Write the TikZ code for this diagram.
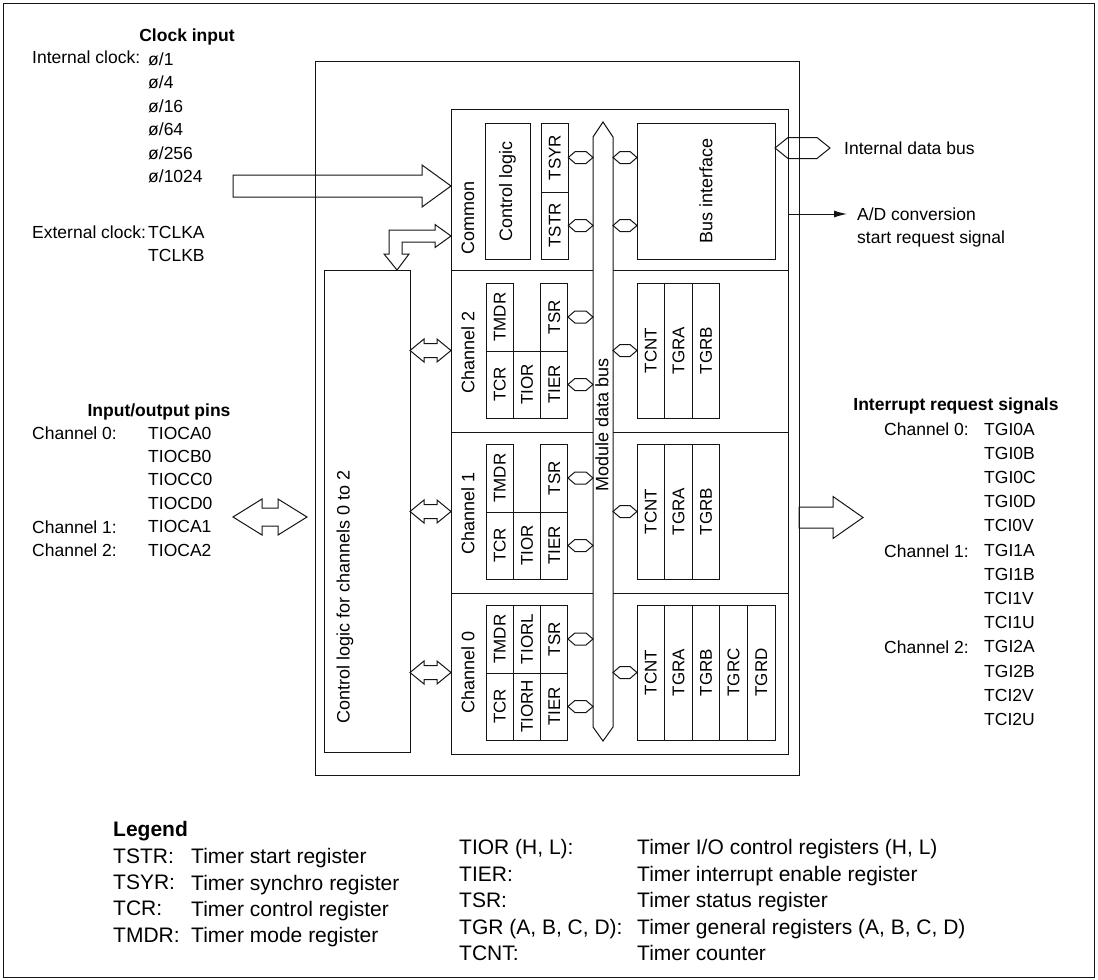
\documentclass[tikz,border=0pt]{standalone}
\usepackage{fontspec}
\setmainfont{Liberation Sans}
\usepackage{graphicx}
\usetikzlibrary{arrows.meta,positioning,calc}
\definecolor{ink}{RGB}{20,20,20}
\tikzset{
  box/.style={draw=ink,line width=1pt,inner sep=0pt,outer sep=0pt,anchor=north west},
  reg/.style={box,minimum width=27.3pt,minimum height=68pt,font=\fontsize{17}{20}\selectfont},
  cnt/.style={box,minimum width=27.6pt,minimum height=135pt,font=\fontsize{17}{20}\selectfont},
  vlabel/.style={rotate=90,font=\fontsize{18}{21}\selectfont},
  fat/.style={draw=ink,line width=1pt,line join=miter},
  sig/.style={-{Latex[length=13pt,width=7pt]},draw=ink,line width=1pt},
  txt/.style={inner sep=0pt,anchor=west,text depth=0pt},
  head/.style={inner sep=0pt,text depth=0pt,font=\fontsize{17.5}{21}\selectfont\bfseries},
  col/.style={inner sep=0pt,align=left,anchor=north west},
}
\newcommand{\vtext}[1]{\rotatebox{90}{#1}}
% hollow arrow: start, tip, half shaft, half head, head length
\newcommand{\fatarrow}[5]{%
  \draw[fat] ($#1+(0,-#3)$) -- ($#2+(-#5,-#3)$) -- ($#2+(-#5,-#4)$) -- #2
    -- ($#2+(-#5,#4)$) -- ($#2+(-#5,#3)$) -- ($#1+(0,#3)$) -- cycle;}
% hollow double arrow (hexagon when shaft = head)
\newcommand{\fatdouble}[5]{%
  \draw[fat] #1 -- ($#1+(#5,-#4)$) -- ($#1+(#5,-#3)$) -- ($#2+(-#5,-#3)$) -- ($#2+(-#5,-#4)$) -- #2
    -- ($#2+(-#5,#4)$) -- ($#2+(-#5,#3)$) -- ($#1+(#5,#3)$) -- ($#1+(#5,#4)$) -- cycle;}

\begin{document}
\begin{tikzpicture}[x=1pt,y=-1pt,font=\fontsize{17.5}{21}\selectfont]
\useasboundingbox (0,0) rectangle (1098,980);
\node[box,minimum width=1091pt,minimum height=974pt] (frame) at (3,3) {};

% chip and module frame
\node[box,minimum width=484pt,minimum height=714pt] (chip) at (315,61) {};
\node[box,minimum width=337pt,minimum height=645pt] (module) at (451,109) {};
\node[box,minimum width=86pt,minimum height=482pt] (cl) at (324,270) {};
\node[vlabel] (cltxt) at (345,597) {Control logic for channels 0 to 2};
\coordinate (sep1) at (0,432);
\coordinate (sep0) at (0,593);
\draw[fat] (module.west |- cl.north) -- (module.east |- cl.north);
\draw[fat] (module.west |- sep1) -- (module.east |- sep1);
\draw[fat] (module.west |- sep0) -- (module.east |- sep0);

% module data bus
\node[box,draw=none,minimum width=20pt,minimum height=590pt] (bus) at (593,137) {};
\draw[fat,fill=white] (bus.north west) -- ($(bus.north)+(0,-15)$) -- (bus.north east)
  -- (bus.south east) -- ($(bus.south)+(0,14)$) -- (bus.south west) -- cycle;
\node[vlabel] (busl) at (602,425) {Module data bus};

% common
\node[vlabel] (coml) at (468,218) {Common};
\node[box,minimum width=45pt,minimum height=136pt,font=\fontsize{18}{21}\selectfont] (ctl) at (485,123) {\vtext{Control logic}};
\node[reg,minimum height=69pt] (tsyr) at (541,123) {\vtext{TSYR}};
\node[reg,minimum height=67pt,below=0pt of tsyr] (tstr) {\vtext{TSTR}};
\node[box,minimum width=138pt,minimum height=136pt,font=\fontsize{18}{21}\selectfont] (busif) at (637,123) {\vtext{Bus interface}};

% channel 2
\node[vlabel] (ch2l) at (468,352) {Channel 2};
\node[reg,minimum height=67pt] (tcr2) at (486,351) {\vtext{TCR}};
\node[reg,minimum height=67pt,right=0pt of tcr2] (tior2) {\vtext{TIOR}};
\node[reg,minimum height=67pt,right=0pt of tior2] (tier2) {\vtext{TIER}};
\node[reg,above=0pt of tcr2] (tmdr2) {\vtext{TMDR}};
\node[reg,above=0pt of tier2] (tsr2) {\vtext{TSR}};
\node[cnt] (tcnt2) at (637,283) {\vtext{TCNT}};
\node[cnt,right=0pt of tcnt2] (tgra2) {\vtext{TGRA}};
\node[cnt,right=0pt of tgra2] (tgrb2) {\vtext{TGRB}};

% channel 1
\node[vlabel] (ch1l) at (468,513) {Channel 1};
\node[reg,minimum height=67pt] (tcr1) at (486,512) {\vtext{TCR}};
\node[reg,minimum height=67pt,right=0pt of tcr1] (tior1) {\vtext{TIOR}};
\node[reg,minimum height=67pt,right=0pt of tior1] (tier1) {\vtext{TIER}};
\node[reg,above=0pt of tcr1] (tmdr1) {\vtext{TMDR}};
\node[reg,above=0pt of tier1] (tsr1) {\vtext{TSR}};
\node[cnt] (tcnt1) at (637,444) {\vtext{TCNT}};
\node[cnt,right=0pt of tcnt1] (tgra1) {\vtext{TGRA}};
\node[cnt,right=0pt of tgra1] (tgrb1) {\vtext{TGRB}};

% channel 0
\node[vlabel] (ch0l) at (468,672) {Channel 0};
\node[reg,minimum height=67pt] (tcr0) at (486,673) {\vtext{TCR}};
\node[reg,minimum height=67pt,right=0pt of tcr0] (tior0) {\vtext{TIORH}};
\node[reg,minimum height=67pt,right=0pt of tior0] (tier0) {\vtext{TIER}};
\node[reg,above=0pt of tcr0] (tmdr0) {\vtext{TMDR}};
\node[reg,above=0pt of tior0] (tiorl0) {\vtext{TIORL}};
\node[reg,above=0pt of tier0] (tsr0) {\vtext{TSR}};
\node[cnt] (tcnt0) at (637,605) {\vtext{TCNT}};
\node[cnt,right=0pt of tcnt0] (tgra0) {\vtext{TGRA}};
\node[cnt,right=0pt of tgra0] (tgrb0) {\vtext{TGRB}};
\node[cnt,right=0pt of tgrb0] (tgrc0) {\vtext{TGRC}};
\node[cnt,right=0pt of tgrc0] (tgrd0) {\vtext{TGRD}};

% bus connectors
\fatdouble{(tsyr.east)}{(bus.west |- tsyr.east)}{6}{6}{7}
\fatdouble{(tstr.east)}{(bus.west |- tstr.east)}{6}{6}{7}
\fatdouble{(bus.east |- tsyr.east)}{(busif.west |- tsyr.east)}{6}{6}{7}
\fatdouble{(bus.east |- tstr.east)}{(busif.west |- tstr.east)}{6}{6}{7}
\fatdouble{(tsr2.east)}{(bus.west |- tsr2.east)}{6}{6}{7}
\fatdouble{(tier2.east)}{(bus.west |- tier2.east)}{6}{6}{7}
\fatdouble{(bus.east |- tcnt2.west)}{(tcnt2.west)}{6}{6}{7}
\fatdouble{(tsr1.east)}{(bus.west |- tsr1.east)}{6}{6}{7}
\fatdouble{(tier1.east)}{(bus.west |- tier1.east)}{6}{6}{7}
\fatdouble{(bus.east |- tcnt1.west)}{(tcnt1.west)}{6}{6}{7}
\fatdouble{(tsr0.east)}{(bus.west |- tsr0.east)}{6}{6}{7}
\fatdouble{(tier0.east)}{(bus.west |- tier0.east)}{6}{6}{7}
\fatdouble{(bus.east |- tcnt0.west)}{(tcnt0.west)}{6}{6}{7}

% control logic <-> channels
\fatdouble{(cl.east |- tcnt2.west)}{(module.west |- tcnt2.west)}{7}{11.5}{14}
\fatdouble{(cl.east |- tcnt1.west)}{(module.west |- tcnt1.west)}{7}{11.5}{14}
\fatdouble{(cl.east |- tcnt0.west)}{(module.west |- tcnt0.west)}{7}{11.5}{14}
\coordinate (cm) at (0,236);
\coordinate (cmR) at (module.west |- cm);
\coordinate (cmD) at ($(cl.north west)+(73,0)$);
\draw[fat] (cmR) -- ++(-16,-11.5) -- ++(0,5.5) -- ++(-46,0) -- ++(0,24) -- ++(-5,0) -- (cmD)
  -- ++(12,-16) -- ++(-7,0) -- ++(0,-12) -- ++(33,0) -- ++(0,5.5) -- cycle;

% outside signals
\coordinate (clk) at (233,186);
\fatarrow{(clk)}{(module.west |- clk)}{11}{21}{29}
\coordinate (ioL) at (233,517);
\coordinate (ioR) at (307,517);
\fatdouble{(ioL)}{(ioR)}{9}{18}{29}
\coordinate (irq) at (863,517.5);
\fatarrow{(chip.east |- irq)}{(irq)}{10.5}{21}{30}
\coordinate (idb) at (830,148);
\fatdouble{(busif.east |- idb)}{(idb)}{10.5}{10.5}{13}
\node[txt] (idbl) at (844,148) {Internal data bus};
\coordinate (adend) at (847,214);
\draw[sig] (module.east |- adend) -- (adend);
\node[col,font=\fontsize{17.5}{23}\selectfont] (adtxt) at (857,207.7) {A/D conversion\\start request signal};

% clock input
\node[head] (clkh) at (187,35) {Clock input};
\node[txt] (intl) at (32,57) {Internal clock:};
\node[col,font=\fontsize{17.5}{23.5}\selectfont] (divs) at (148,52.5) {ø/1\\ø/4\\ø/16\\ø/64\\ø/256\\ø/1024};
\node[txt] (extl) at (32,232) {External clock:};
\node[col,font=\fontsize{17.5}{23.2}\selectfont] (tclk) at (148,225.7) {TCLKA\\TCLKB};

% input/output pins
\node[head] (ioh) at (159,410) {Input/output pins};
\node[txt] (io0) at (32,433) {Channel 0:};
\node[txt] (io1) at (32,527) {Channel 1:};
\node[txt] (io2) at (32,550) {Channel 2:};
\node[col,font=\fontsize{17.5}{23.4}\selectfont] (pins) at (148,426.7)
  {TIOCA0\\TIOCB0\\TIOCC0\\TIOCD0\\TIOCA1\\TIOCA2};

% interrupt request signals
\node[head] (irqh) at (956,404) {Interrupt request signals};
\node[txt] (irq0) at (884,429) {Channel 0:};
\node[txt] (irq1) at (884,551) {Channel 1:};
\node[txt] (irq2) at (884,647) {Channel 2:};
\node[col,font=\fontsize{17.5}{24.2}\selectfont] (tgi) at (984,422.7)
  {TGI0A\\TGI0B\\TGI0C\\TGI0D\\TCI0V\\TGI1A\\TGI1B\\TCI1V\\TCI1U\\TGI2A\\TGI2B\\TCI2V\\TCI2U};

% legend
\node[txt,font=\fontsize{21}{26}\selectfont\bfseries] (legh) at (113,829) {Legend};
\node[col,font=\fontsize{21}{26.3}\selectfont] (legA) at (113,848.5) {TSTR:\\TSYR:\\TCR:\\TMDR:};
\node[col,font=\fontsize{21}{26.3}\selectfont] (legAd) at (191,848.5)
  {Timer start register\\Timer synchro register\\Timer control register\\Timer mode register};
\node[col,font=\fontsize{21}{26.5}\selectfont] (legB) at (459,839.5)
  {TIOR (H, L):\\TIER:\\TSR:\\TGR (A, B, C, D):\\TCNT:};
\node[col,font=\fontsize{21}{26.5}\selectfont] (legBd) at (637,839.5)
  {Timer I/O control registers (H, L)\\Timer interrupt enable register\\Timer status register\\Timer general registers (A, B, C, D)\\Timer counter};
\end{tikzpicture}
\end{document}
